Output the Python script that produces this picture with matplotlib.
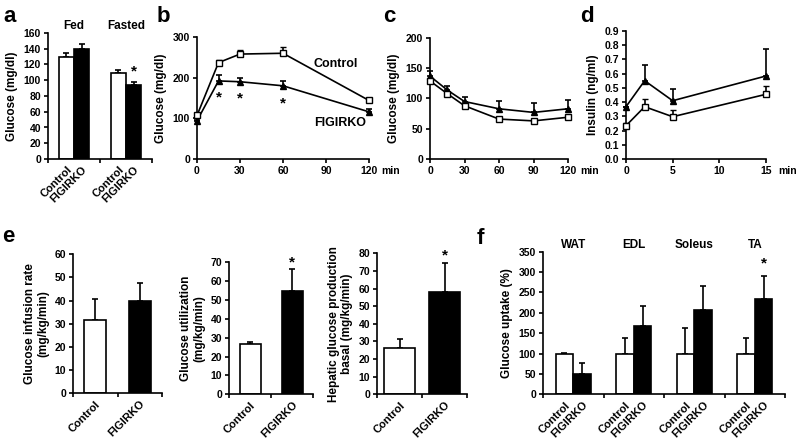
import numpy as np
import matplotlib
matplotlib.use('Agg')
import matplotlib.pyplot as plt

plt.rcParams['font.family'] = ['Liberation Sans', 'DejaVu Sans']
plt.rcParams['font.weight'] = 'bold'
plt.rcParams['axes.labelweight'] = 'bold'
plt.rcParams['font.size'] = 7

# panel a
a_groups = ['Fed', 'Fasted']
a_ctrl = [130, 109]
a_ctrl_err = [4, 4]
a_ko = [140, 94]
a_ko_err = [6, 4]

# panel b (GTT)
b_t = [0, 15, 30, 60, 120]
b_ctrl = [107, 237, 258, 260, 144]
b_ctrl_err = [5, 6, 10, 16, 3]
b_ko = [94, 192, 190, 180, 116]
b_ko_err = [3, 14, 9, 13, 8]
b_star_t = [15, 30, 60]
b_star_y = [152, 150, 137]

# panel c (ITT)
c_t = [0, 15, 30, 60, 90, 120]
c_ctrl = [129, 108, 88, 66, 63, 69]
c_ctrl_err = [4, 3, 3, 2, 2, 3]
c_ko = [137, 114, 95, 83, 77, 83]
c_ko_err = [9, 7, 8, 13, 15, 14]

# panel d (insulin)
d_t = [0, 2, 5, 15]
d_ctrl = [0.235, 0.368, 0.298, 0.455]
d_ctrl_err = [0.02, 0.056, 0.047, 0.06]
d_ko = [0.368, 0.55, 0.41, 0.583]
d_ko_err = [0.0, 0.11, 0.08, 0.19]

# panel e (clamp)
e_names = ['Glucose infusion rate\n(mg/kg/min)',
           'Glucose utilization\n(mg/kg/min)',
           'Hepatic glucose production\nbasal (mg/kg/min)']
e_ctrl = [31.6, 26.7, 26.4]
e_ctrl_err = [9, 1.3, 4.8]
e_ko = [39.8, 54.8, 58.2]
e_ko_err = [8, 11.5, 16.5]
e_ymax = [60, 70, 80]
e_star = [None, 70, 79]

# panel f (uptake)
f_groups = ['WAT', 'EDL', 'Soleus', 'TA']
f_ctrl = [100, 100, 100, 100]
f_ctrl_err = [2, 37, 63, 37]
f_ko = [50, 167, 206, 235]
f_ko_err = [28, 49, 59, 55]

W, H = 800, 440
fig = plt.figure(figsize=(8, 4.4), dpi=100)
LAB = 8.5
CAT = 8


def axpx(x0, x1, y0, y1):
    # y0 top pixel, y1 bottom pixel
    ax = fig.add_axes([x0 / W, 1 - y1 / H, (x1 - x0) / W, (y1 - y0) / H])
    ax.spines['top'].set_visible(False)
    ax.spines['right'].set_visible(False)
    for s in ['left', 'bottom']:
        ax.spines[s].set_linewidth(1.2)
    ax.tick_params(width=1.2, length=3, pad=2, labelsize=7.5)
    return ax


def cat_labels(ax, xc, xk, n):
    ax.set_xticks(np.arange(n + 1))
    ax.set_xticklabels([])
    ax.set_xticks(np.concatenate([xc, xk]), minor=True)
    ax.set_xticklabels(['Control'] * n + ['FIGIRKO'] * n, minor=True,
                       rotation=45, ha='right', rotation_mode='anchor', fontsize=CAT)
    ax.tick_params(axis='x', which='minor', length=0, pad=4)


def grouped_bars(ax, ctrl, cerr, ko, kerr, w):
    n = len(ctrl)
    xc = np.arange(n) + 0.5 - w / 2
    xk = np.arange(n) + 0.5 + w / 2
    ax.bar(xc, ctrl, w, color='white', edgecolor='black', linewidth=1.2, zorder=2)
    ax.bar(xk, ko, w, color='black', edgecolor='black', linewidth=1.2, zorder=2)
    ax.errorbar(xc, ctrl, yerr=[np.zeros(n), cerr], fmt='none', ecolor='black',
                elinewidth=1.2, capsize=2, capthick=1.2, zorder=1)
    ax.errorbar(xk, ko, yerr=[np.zeros(n), kerr], fmt='none', ecolor='black',
                elinewidth=1.2, capsize=2, capthick=1.2, zorder=1)
    ax.set_xlim(0, n)
    cat_labels(ax, xc, xk, n)
    return xc, xk


def lines(ax, t, ctrl, cerr, ko, kerr):
    ax.errorbar(t, ko, yerr=[np.zeros(len(t)), kerr], color='black', lw=1.2,
                marker='^', ms=5, mfc='black', mec='black', capsize=2,
                capthick=1.2, clip_on=False, zorder=3)
    ax.errorbar(t, ctrl, yerr=[np.zeros(len(t)), cerr], color='black', lw=1.2,
                marker='s', ms=4.5, mfc='white', mec='black', mew=1,
                capsize=2, capthick=1.2, clip_on=False, zorder=4)


def min_label(ax, x):
    ax.annotate('min', xy=(x, 0), xycoords='data', xytext=(9, -5),
                textcoords='offset points', ha='left', va='top', fontsize=7.5)


# ---- a
ax = axpx(48, 152, 33, 159)
xc, xk = grouped_bars(ax, a_ctrl, a_ctrl_err, a_ko, a_ko_err, 0.29)
ax.set_ylim(0, 160)
ax.set_yticks(range(0, 161, 20))
ax.set_ylabel('Glucose (mg/dl)', fontsize=LAB)
for i, g in enumerate(a_groups):
    ax.text(i + 0.5, 161, g, ha='center', va='bottom', fontsize=LAB)
ax.text(xk[1], a_ko[1] + a_ko_err[1] + 4, '*', ha='center', va='bottom', fontsize=11)

# ---- b
ax = axpx(197, 369, 37, 159)
lines(ax, b_t, b_ctrl, b_ctrl_err, b_ko, b_ko_err)
ax.set_xlim(0, 120)
ax.set_ylim(0, 300)
ax.set_xticks([0, 30, 60, 90, 120])
ax.set_yticks([0, 100, 200, 300])
ax.set_ylabel('Glucose (mg/dl)', fontsize=LAB)
min_label(ax, 120)
ax.text(97, 233, 'Control', ha='center', va='center', fontsize=9)
ax.text(100, 88, 'FIGIRKO', ha='center', va='center', fontsize=9)
for t, y in zip(b_star_t, b_star_y):
    ax.text(t, y, '*', ha='center', va='center', fontsize=11)

# ---- c
ax = axpx(430, 568, 38, 159)
lines(ax, c_t, c_ctrl, c_ctrl_err, c_ko, c_ko_err)
ax.set_xlim(0, 120)
ax.set_ylim(0, 200)
ax.set_xticks([0, 30, 60, 90, 120])
ax.set_yticks([0, 50, 100, 150, 200])
ax.set_ylabel('Glucose (mg/dl)', fontsize=LAB)
min_label(ax, 120)

# ---- d
ax = axpx(626, 766, 30.7, 159.3)
lines(ax, d_t, d_ctrl, d_ctrl_err, d_ko, d_ko_err)
ax.set_xlim(0, 15)
ax.set_ylim(0, 0.9)
ax.set_xticks([0, 5, 10, 15])
ax.set_yticks(np.arange(0, 0.91, 0.1))
ax.set_yticklabels(['%.1f' % v for v in np.arange(0, 0.91, 0.1)])
ax.set_ylabel('Insulin (ng/ml)', fontsize=LAB)
min_label(ax, 15)

# ---- e
e_pos = [(73, 162, 254.3, 393.3, 0.49), (229, 313, 262.3, 394.3, 0.5),
         (377, 467, 253.3, 394.3, 0.7)]
for i, (x0, x1, y0, y1, w) in enumerate(e_pos):
    ax = axpx(x0, x1, y0, y1)
    xs = np.array([0.5, 1.5])
    ax.bar(xs, [e_ctrl[i], e_ko[i]], w, color=['white', 'black'],
           edgecolor='black', linewidth=1.2, zorder=2)
    ax.errorbar(xs, [e_ctrl[i], e_ko[i]], yerr=[[0, 0], [e_ctrl_err[i], e_ko_err[i]]],
                fmt='none', ecolor='black', elinewidth=1.2, capsize=2,
                capthick=1.2, zorder=1)
    ax.set_xlim(0, 2)
    ax.set_ylim(0, e_ymax[i])
    ax.set_yticks(range(0, e_ymax[i] + 1, 10))
    cat_labels(ax, xs[:1], xs[1:], 1)
    ax.set_xticks([0, 1, 2])
    ax.set_xticklabels([])
    ax.set_ylabel(e_names[i], fontsize=LAB, linespacing=1.1)
    if e_star[i] is not None:
        ax.text(1.5, e_star[i], '*', ha='center', va='center', fontsize=11,
                clip_on=False)

# ---- f
ax = axpx(543, 785, 251.7, 394.3)
xc, xk = grouped_bars(ax, f_ctrl, f_ctrl_err, f_ko, f_ko_err, 0.29)
ax.set_ylim(0, 350)
ax.set_yticks(range(0, 351, 50))
ax.set_ylabel('Glucose uptake (%)', fontsize=LAB)
for i, g in enumerate(f_groups):
    ax.text(i + 0.5, 352, g, ha='center', va='bottom', fontsize=LAB)
ax.text(xk[3], 322, '*', ha='center', va='center', fontsize=11)

# panel letters
for lab, x, y in [('a', 3, 22), ('b', 157, 22), ('c', 383, 22), ('d', 580, 22),
                  ('e', 2, 242), ('f', 477, 244)]:
    fig.text(x / W, 1 - y / H, lab, fontsize=16, fontweight='bold',
             ha='left', va='baseline')

fig.savefig('out.png', dpi=100)
